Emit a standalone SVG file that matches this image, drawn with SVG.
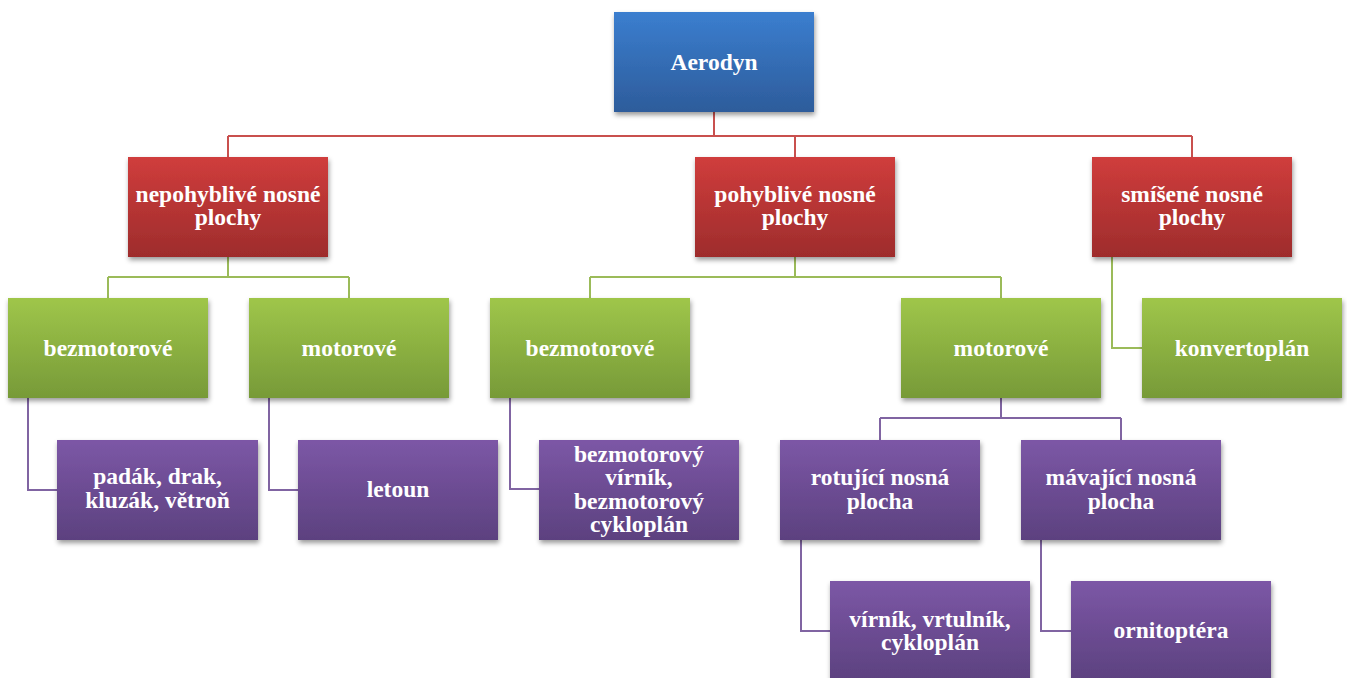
<svg xmlns="http://www.w3.org/2000/svg" width="1347" height="678" viewBox="0 0 1347 678">
<style>
  text { font-family: "Liberation Serif", "Times New Roman", serif; font-weight: 700; font-size: 23.5px; fill: #ffffff; text-anchor: middle; }
  .box { filter: url(#sh); }
  .blue { fill: url(#gBlue); }
  .red { fill: url(#gRed); }
  .green { fill: url(#gGreen); }
  .purple { fill: url(#gPurple); }
  .c { fill: none; stroke-width: 2; }
  .cr { stroke: #c9504e; }
  .cg { stroke: #9bbb59; }
  .cp { stroke: #8064a2; }
</style>
<defs>
  <linearGradient id="gBlue" x1="0" y1="0" x2="0" y2="1"><stop offset="0" stop-color="#3b7ecf"/><stop offset="1" stop-color="#2d5c9b"/></linearGradient>
  <linearGradient id="gRed" x1="0" y1="0" x2="0" y2="1"><stop offset="0" stop-color="#d03d3c"/><stop offset="1" stop-color="#9e2c2c"/></linearGradient>
  <linearGradient id="gGreen" x1="0" y1="0" x2="0" y2="1"><stop offset="0" stop-color="#9fc64a"/><stop offset="1" stop-color="#779a38"/></linearGradient>
  <linearGradient id="gPurple" x1="0" y1="0" x2="0" y2="1"><stop offset="0" stop-color="#7c57a6"/><stop offset="1" stop-color="#5c417f"/></linearGradient>
  <filter id="sh" x="-10%" y="-10%" width="120%" height="130%">
    <feDropShadow dx="1" dy="3" stdDeviation="2.5" flood-color="#000" flood-opacity="0.4"/>
  </filter>
</defs>

<g id="connectors">
  <path class="c cr" d="M714 111 V136 M228 136 H1192 M228 136 V157 M795 136 V157 M1192 136 V157"/>
  <path class="c cg" d="M228 257 V277 M108 277 H349 M108 277 V298 M349 277 V298"/>
  <path class="c cg" d="M795 257 V277 M590 277 H1001 M590 277 V298 M1001 277 V298"/>
  <path class="c cg" d="M1112 257 V348 H1142"/>
  <path class="c cp" d="M28 398 V490 H57"/>
  <path class="c cp" d="M269 398 V490 H298"/>
  <path class="c cp" d="M510 398 V489 H539"/>
  <path class="c cp" d="M1001 398 V418 M880 418 H1121 M880 418 V440 M1121 418 V440"/>
  <path class="c cp" d="M801 540 V631 H830"/>
  <path class="c cp" d="M1041 540 V631 H1071"/>
</g>

<g id="n-aerodyn"><rect class="box blue" x="614" y="12" width="200" height="100"/><text x="714" y="69.5">Aerodyn</text></g>

<g id="n-nepohyblive"><rect class="box red" x="128" y="157" width="200" height="100"/><text x="228" y="201.5">nepohyblivé nosné</text><text x="228" y="225">plochy</text></g>
<g id="n-pohyblive"><rect class="box red" x="695" y="157" width="200" height="100"/><text x="795" y="201.5">pohyblivé nosné</text><text x="795" y="225">plochy</text></g>
<g id="n-smisene"><rect class="box red" x="1092" y="157" width="200" height="100"/><text x="1192" y="201.5">smíšené nosné</text><text x="1192" y="225">plochy</text></g>

<g id="n-bezmotorove1"><rect class="box green" x="8" y="298" width="200" height="100"/><text x="108" y="356">bezmotorové</text></g>
<g id="n-motorove1"><rect class="box green" x="249" y="298" width="200" height="100"/><text x="349" y="356">motorové</text></g>
<g id="n-bezmotorove2"><rect class="box green" x="490" y="298" width="200" height="100"/><text x="590" y="356">bezmotorové</text></g>
<g id="n-motorove2"><rect class="box green" x="901" y="298" width="200" height="100"/><text x="1001" y="356">motorové</text></g>
<g id="n-konvertoplan"><rect class="box green" x="1142" y="298" width="200" height="100"/><text x="1242" y="356">konvertoplán</text></g>

<g id="n-padak"><rect class="box purple" x="57" y="440" width="201" height="100"/><text x="157.5" y="484">padák, drak,</text><text x="157.5" y="507.5">kluzák, větroň</text></g>
<g id="n-letoun"><rect class="box purple" x="298" y="440" width="200" height="100"/><text x="398" y="497">letoun</text></g>
<g id="n-bezmotorovy"><rect class="box purple" x="539" y="440" width="200" height="100"/><text x="639" y="461.5">bezmotorový</text><text x="639" y="485">vírník,</text><text x="639" y="508.5">bezmotorový</text><text x="639" y="532">cykloplán</text></g>
<g id="n-rotujici"><rect class="box purple" x="780" y="440" width="200" height="100"/><text x="880" y="485">rotující nosná</text><text x="880" y="508.5">plocha</text></g>
<g id="n-mavajici"><rect class="box purple" x="1021" y="440" width="200" height="100"/><text x="1121" y="485">mávající nosná</text><text x="1121" y="508.5">plocha</text></g>
<g id="n-virnik"><rect class="box purple" x="830" y="581" width="200" height="100"/><text x="930" y="626.5">vírník, vrtulník,</text><text x="930" y="650">cykloplán</text></g>
<g id="n-ornitoptera"><rect class="box purple" x="1071" y="581" width="200" height="100"/><text x="1171" y="638">ornitoptéra</text></g>
</svg>
